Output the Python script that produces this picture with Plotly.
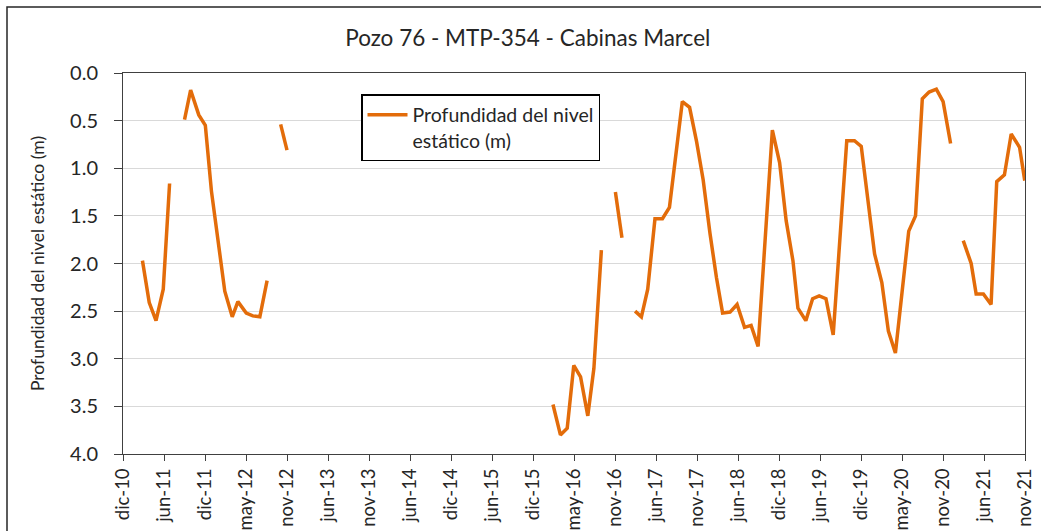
import datetime as dt
import plotly.graph_objects as go

# ---- data ----
fechas = [
    "2011-02-25", "2011-03-27", "2011-04-26", "2011-05-28", "2011-06-25", None,
    "2011-08-30", "2011-09-26", "2011-11-01", "2011-11-30", "2011-12-27", "2012-01-25",
    "2012-02-24", "2012-03-28", "2012-04-22", "2012-05-29", "2012-06-27", "2012-07-28",
    "2012-08-29", None,
    "2012-10-28", "2012-11-25", None,
    "2016-02-14", "2016-03-18", "2016-04-17", "2016-05-16", "2016-06-15", "2016-07-17",
    "2016-08-13", "2016-09-15", None,
    "2016-11-16", "2016-12-15", None,
    "2017-02-11", "2017-03-11", "2017-04-08", "2017-05-10", "2017-06-12", "2017-07-13",
    "2017-09-08", "2017-10-10", "2017-11-10", "2017-12-09", "2018-01-08", "2018-02-06",
    "2018-03-05", "2018-04-07", "2018-05-08", "2018-06-10", "2018-07-09", "2018-08-09",
    "2018-10-11", "2018-11-12", "2018-12-11", "2019-01-10", "2019-02-01", "2019-03-08",
    "2019-04-07", "2019-05-06", "2019-06-05", "2019-07-07", "2019-09-05", "2019-10-09",
    "2019-11-08", "2019-12-07", "2020-01-06", "2020-02-07", "2020-03-07", "2020-04-07",
    "2020-06-05", "2020-07-05", "2020-08-04", "2020-09-03", "2020-10-05", "2020-11-04",
    "2020-12-07", None,
    "2021-02-01", "2021-03-08", "2021-03-30", "2021-05-01", "2021-06-04", "2021-06-29",
    "2021-08-02", "2021-09-01", "2021-10-08", "2021-10-31",
]
profundidad = [
    1.97, 2.41, 2.60, 2.27, 1.16, None,
    0.49, 0.18, 0.44, 0.55, 1.24, 1.73,
    2.29, 2.56, 2.40, 2.52, 2.55, 2.56,
    2.18, None,
    0.54, 0.81, None,
    3.48, 3.80, 3.73, 3.07, 3.19, 3.60,
    3.10, 1.86, None,
    1.25, 1.73, None,
    2.50, 2.56, 2.27, 1.53, 1.53, 1.41,
    0.30, 0.36, 0.72, 1.12, 1.68, 2.15,
    2.52, 2.51, 2.43, 2.67, 2.65, 2.87,
    0.60, 0.94, 1.55, 1.97, 2.47, 2.60,
    2.37, 2.34, 2.37, 2.75, 0.71, 0.71,
    0.77, 1.35, 1.90, 2.20, 2.71, 2.94,
    1.66, 1.50, 0.27, 0.20, 0.17, 0.30,
    0.74, None,
    1.76, 2.00, 2.32, 2.32, 2.43, 1.14,
    1.07, 0.64, 0.78, 1.13,
]
tick_labels = ["dic-10", "jun-11", "dic-11", "may-12", "nov-12", "jun-13", "nov-13",
               "jun-14", "dic-14", "jun-15", "dic-15", "may-16", "nov-16", "jun-17",
               "nov-17", "jun-18", "dic-18", "jun-19", "dic-19", "may-20", "nov-20",
               "jun-21", "nov-21"]
eje_inicio = "2010-12-01"
eje_fin = "2021-11-01"

titulo = "Pozo 76 - MTP-354 - Cabinas Marcel"
serie = "Profundidad del nivel<br>estático (m)"
titulo_y = "Profundidad del nivel estático (m)"

# ---- build figure ----
xs = []
last = None
for f in fechas:
    if f is None:
        xs.append(last)
    else:
        xs.append(f)
        last = f

d0 = dt.datetime.fromisoformat(eje_inicio)
d1 = dt.datetime.fromisoformat(eje_fin)
n = len(tick_labels) - 1
tick_vals = [d0 + (d1 - d0) * k / n for k in range(n + 1)]

FONT = "Lato"
DARK = "#404040"
TXT = "#262626"
ORANGE = "#E36C0A"

fig = go.Figure()
fig.add_trace(go.Scatter(
    x=xs, y=profundidad, mode="lines", name=serie,
    line=dict(color=ORANGE, width=3.5), connectgaps=False, showlegend=True,
))

fig.update_layout(
    width=1041, height=531,
    margin=dict(l=123, r=16, t=73, b=77, autoexpand=False),
    paper_bgcolor="white", plot_bgcolor="white",
    font=dict(family=FONT, color=TXT, size=18),
    title=dict(text=titulo, x=0.507, xref="container", xanchor="center",
               y=1 - 38 / 531, yref="container", yanchor="middle",
               font=dict(size=22.5, color=TXT, family=FONT)),
    showlegend=True,
    legend=dict(x=(361 - 123) / 902, y=(454 - 94) / 381, xanchor="left", yanchor="top",
                bordercolor="black", borderwidth=1.5, bgcolor="white",
                font=dict(size=19.5, family=FONT, color=TXT), valign="top",
                itemwidth=40, tracegroupgap=0),
)

fig.update_xaxes(
    type="date", range=[d0, d1], tickmode="array", tickvals=tick_vals, ticktext=tick_labels,
    tickangle=-90, ticks="outside", ticklen=6, tickcolor=DARK, tickwidth=1,
    showline=True, linecolor=DARK, linewidth=1, mirror=True, showgrid=False,
    zeroline=False, automargin=False,
    tickfont=dict(size=18.5, family=FONT, color=TXT),
)
fig.update_yaxes(
    range=[4, 0], tickmode="linear", tick0=0, dtick=0.5, tickformat=".1f",
    ticks="outside", ticklen=8, tickcolor=DARK, tickwidth=1,
    showline=True, linecolor=DARK, linewidth=1, mirror=True,
    showgrid=True, gridcolor="#D9D9D9", gridwidth=1, zeroline=False, automargin=False,
    tickfont=dict(size=20, family=FONT, color=TXT),
    ticklabelstandoff=12,
    title=dict(text=titulo_y, font=dict(size=17.5, family=FONT, color=TXT), standoff=20),
)

# outer chart border (top/left visible, rest out of frame)
fig.add_shape(type="rect", xref="paper", yref="paper",
              x0=(7 - 123) / 902, x1=(1046 - 123) / 902,
              y0=(454 - 536) / 381, y1=(454 - 7) / 381,
              line=dict(color=TXT, width=1.5), layer="below")

fig.write_html("out.html", config={"displayModeBar": False},
               post_script="document.body.style.margin='0';document.body.style.overflow='hidden';")
